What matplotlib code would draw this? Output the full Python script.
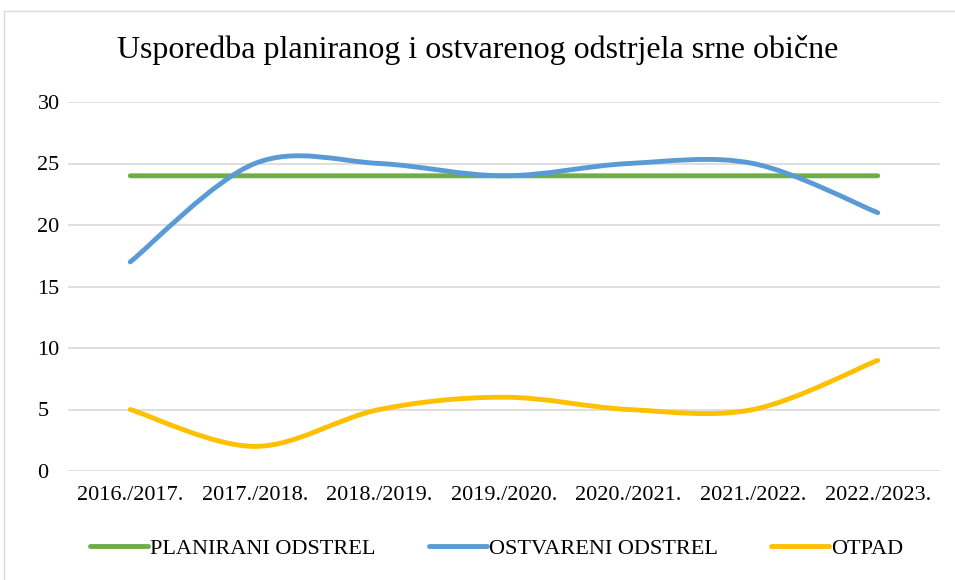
import matplotlib.pyplot as plt
from matplotlib.path import Path
from matplotlib.patches import PathPatch, Rectangle
from matplotlib.lines import Line2D
import numpy as np

plt.rcParams['font.family'] = ['Liberation Serif', 'DejaVu Serif']

seasons = ['2016./2017.', '2017./2018.', '2018./2019.', '2019./2020.',
           '2020./2021.', '2021./2022.', '2022./2023.']
planirani = [24, 24, 24, 24, 24, 24, 24]
ostvareni = [17, 25, 25, 24, 25, 25, 21]
otpad = [5, 2, 5, 6, 5, 5, 9]

series = [('PLANIRANI ODSTREL', planirani, '#70AD47'),
          ('OSTVARENI ODSTREL', ostvareni, '#5B9BD5'),
          ('OTPAD', otpad, '#FFC000')]


def smooth_path(xs, ys):
    # excel-like smoothed line: catmull-rom converted to cubic bezier
    pts = np.column_stack([xs, ys]).astype(float)
    n = len(pts)
    verts = [pts[0]]
    codes = [Path.MOVETO]
    for i in range(n - 1):
        p0 = pts[max(i - 1, 0)]
        p1 = pts[i]
        p2 = pts[i + 1]
        p3 = pts[min(i + 2, n - 1)]
        c1 = p1 + (p2 - p0) / 6.0
        c2 = p2 - (p3 - p1) / 6.0
        verts += [c1, c2, p2]
        codes += [Path.CURVE4] * 3
    return Path(verts, codes)


fig = plt.figure(figsize=(9.55, 5.8), dpi=100)
fig.patches.append(Rectangle((4 / 955, -0.05), 1.0, 1 - 11 / 580 + 0.05,
                             transform=fig.transFigure, fill=False,
                             edgecolor='#D9D9D9', linewidth=1.0))
ax = fig.add_axes([68 / 955, 1 - 471 / 580, (940 - 68) / 955, (471 - 102) / 580])

x = np.arange(len(seasons))
for name, vals, col in series:
    ax.add_patch(PathPatch(smooth_path(x, vals), facecolor='none', edgecolor=col,
                           linewidth=3.5, capstyle='round', joinstyle='round', zorder=3))

ax.set_xlim(-0.5, len(seasons) - 0.5)
ax.set_ylim(0, 30)
ax.set_yticks(range(0, 31, 5))
ax.set_xticks(x)
ax.set_xticklabels(seasons)
ax.tick_params(axis='both', length=0, labelsize=16, colors='black')
ax.tick_params(axis='x', pad=11)
ax.tick_params(axis='y', pad=22)
for lbl in ax.get_yticklabels():
    lbl.set_horizontalalignment('left')
ax.grid(axis='y', color='#D9D9D9', linewidth=1.2)
ax.set_axisbelow(True)
for s in ax.spines.values():
    s.set_visible(False)

fig.text(0.5, 1 - 50 / 580, 'Usporedba planiranog i ostvarenog odstrjela srne obične',
         ha='center', va='center', fontsize=23)

handles = [Line2D([], [], color=col, linewidth=3.5, solid_capstyle='round')
           for _, _, col in series]
fig.legend(handles, [s[0] for s in series], loc='center', bbox_to_anchor=(0.52, 1 - 549 / 580),
           ncol=3, frameon=False, fontsize=16, handlelength=2.6, handletextpad=0.1,
           columnspacing=2.4)

fig.savefig('out.png', dpi=100)
